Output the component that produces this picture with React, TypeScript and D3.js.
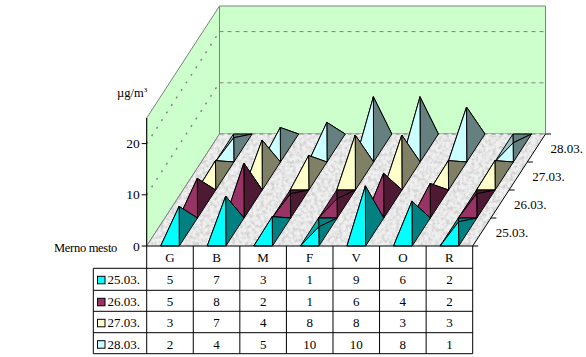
import React from "react";
import * as d3 from "d3";

const categories = ["G", "B", "M", "F", "V", "O", "R"];
const seriesNames = ["25.03.", "26.03.", "27.03.", "28.03."];
const s25 = [5, 7, 3, 1, 9, 6, 2];
const s26 = [5, 8, 2, 1, 6, 4, 2];
const s27 = [3, 7, 4, 8, 8, 3, 3];
const s28 = [2, 4, 5, 10, 10, 8, 1];
const seriesValues = [s25, s26, s27, s28];
const yTicks = [0, 10, 20];
const frontColors = ["#00FFFF", "#993366", "#FFFFCC", "#CCFFFF"];
const rightColors = ["#008080", "#4D1933", "#808066", "#668080"];
const leftColors = ["#00B0B0", "#73264D", "#BFBF99", "#99BFBF"];

const W = 586, H = 357;
const X0 = 146.7, X1 = 472.7, Y0 = 246;
const DX = 72.8, DY = -112;
const font = "'Liberation Serif','Times New Roman',serif";
const ink = "#000";
const wallFill = "#CCFFCC";
const wallLine = "#808080";

const x = d3.scaleBand<string>().domain(categories).range([X0, X1]).paddingInner(0).paddingOuter(0);
const y = d3.scaleLinear().domain([0, 25]).range([0, 128]);
const depth = d3.scaleLinear().domain([0, 4]).range([0, 1]);
const line = d3.line();
type P = [number, number];
const project = (px: number, d: number, v: number): P => [
  px + depth(d) * DX,
  Y0 + depth(d) * DY - y(v),
];
const poly = (pts: P[]) => line(pts)! + "Z";

const rowY = [246, 268.3, 290.3, 311.3, 332.7, 353.7];
const legendX = 93.3;

function Pyramid({ c, s, v }: { c: string; s: number; v: number }) {
  const bw = x.bandwidth();
  const a = x(c)! + bw * 0.3;
  const b = x(c)! + bw * 0.7;
  const FL = project(a, s, 0), FR = project(b, s, 0);
  const BL = project(a, s + 1, 0), BR = project(b, s + 1, 0);
  const A = project((a + b) / 2, s + 0.5, v);
  const common = { stroke: ink, strokeWidth: 1, strokeLinejoin: "round" as const };
  return (
    <g>
      <path d={poly([BL, BR, A])} fill={rightColors[s]} {...common} />
      <path d={poly([FL, BL, A])} fill={leftColors[s]} {...common} />
      <path d={poly([FR, BR, A])} fill={rightColors[s]} {...common} />
      <path d={poly([FL, FR, A])} fill={frontColors[s]} {...common} />
    </g>
  );
}

export default function App() {
  const tl = project(X0, 0, 25), bl = project(X0, 0, 0);
  const tb = project(X0, 4, 25), bb = project(X0, 4, 0);
  const tr = project(X1, 4, 25), br = project(X1, 4, 0);
  const fr = project(X1, 0, 0);
  const textBase = { fontFamily: font, fill: ink };
  return (
    <svg width={W} height={H} viewBox={`0 0 ${W} ${H}`} style={{ position: "absolute", left: 0, top: 0, background: "#fff" }}>
      <defs>
        <filter id="marble" x="0" y="0" width="100%" height="100%" colorInterpolationFilters="sRGB">
          <feTurbulence type="fractalNoise" baseFrequency="0.28" numOctaves="3" seed="4" result="n" />
          <feColorMatrix in="n" type="matrix" values="0 0 0 0 0.82  0 0 0 0 0.82  0 0 0 0 0.82  2.6 0 0 0 -1.0" result="spots" />
          <feFlood floodColor="#F0F0F0" result="bg" />
          <feMerge result="m">
            <feMergeNode in="bg" />
            <feMergeNode in="spots" />
          </feMerge>
          <feComposite in="m" in2="SourceGraphic" operator="in" />
        </filter>
      </defs>

      {/* walls */}
      <path d={poly([tl, tb, bb, bl])} fill={wallFill} stroke={wallLine} />
      <path d={poly([tb, tr, br, bb])} fill={wallFill} stroke={wallLine} />
      {[10, 20].map((t) => (
        <g key={t} stroke={wallLine} fill="none">
          <path d={line([project(X0, 0, t), project(X0, 4, t)])!} strokeDasharray="2 7" strokeWidth={1.4} />
          <path d={line([project(X0, 4, t), project(X1, 4, t)])!} strokeDasharray="4 4" />
        </g>
      ))}

      {/* floor */}
      <path d={poly([bl, bb, br, fr])} fill="#eee" filter="url(#marble)" />
      <path d={line([bl, bb])!} stroke={wallLine} fill="none" />
      <path d={line([bb, br])!} stroke={wallLine} strokeDasharray="4 4" fill="none" />

      {/* pyramids */}
      {d3.range(3, -1, -1).map((s) =>
        categories.map((c, i) => <Pyramid key={c + s} c={c} s={s} v={seriesValues[s][i]} />)
      )}

      {/* value axis */}
      <path d={line([bl, tl])!} stroke={ink} fill="none" />
      {yTicks.map((t) => {
        const p = project(X0, 0, t);
        return (
          <g key={t}>
            <path d={`M${X0 - 5},${p[1]}H${X0}`} stroke={ink} />
            <text x={X0 - 7} y={p[1] + 4.5} textAnchor="end" fontSize={13.5} {...textBase}>{t}</text>
          </g>
        );
      })}
      <text x={117} y={97} fontSize={12.5} {...textBase}>µg/m<tspan dy={-5} fontSize={7}>3</tspan></text>
      <text x={54} y={252} fontSize={12.5} letterSpacing={-0.3} {...textBase}>Merno mesto</text>

      {/* depth axis */}
      <path d={line([fr, br])!} stroke={ink} fill="none" />
      {d3.range(0, 5).map((d) => {
        const p = project(X1, d, 0);
        return <path key={d} d={`M${p[0]},${p[1]}h5.5`} stroke={ink} />;
      })}
      {seriesNames.map((n, s) => {
        const p = project(X1, s + 0.5, 0);
        return <text key={n} x={p[0] + 14} y={p[1] + 4.5} fontSize={13} {...textBase}>{n}</text>;
      })}

      {/* data table */}
      <g stroke={ink} fill="none">
        <path d={`M${X0},${rowY[0]}H${X1}`} />
        <path d={`M${X0},${rowY[1]}H${X1}`} />
        {rowY.slice(2).map((r) => <path key={r} d={`M${legendX},${r}H${X1}`} />)}
        <path d={`M${legendX},${rowY[1]}H${X0}`} />
        <path d={`M${legendX},${rowY[1]}V${rowY[5]}`} />
        <path d={`M${X0},${rowY[0]}V${rowY[5]}`} />
        {categories.map((c) => (
          <path key={c} d={`M${x(c)! + x.bandwidth()},${rowY[0]}V${rowY[5]}`} />
        ))}
      </g>
      {categories.map((c) => (
        <text key={c} x={x(c)! + x.bandwidth() / 2} y={rowY[1] - 6.5} textAnchor="middle" fontSize={13} {...textBase}>{c}</text>
      ))}
      {seriesNames.map((n, s) => (
        <g key={n}>
          <rect x={97.5} y={rowY[s + 1] + 8} width={7.5} height={7.5} fill={frontColors[s]} stroke={ink} />
          <text x={107.5} y={rowY[s + 1] + 16} fontSize={13} {...textBase}>{n}</text>
          {categories.map((c, i) => (
            <text key={c} x={x(c)! + x.bandwidth() / 2} y={rowY[s + 1] + 16} textAnchor="middle" fontSize={13} {...textBase}>
              {seriesValues[s][i]}
            </text>
          ))}
        </g>
      ))}
    </svg>
  );
}
